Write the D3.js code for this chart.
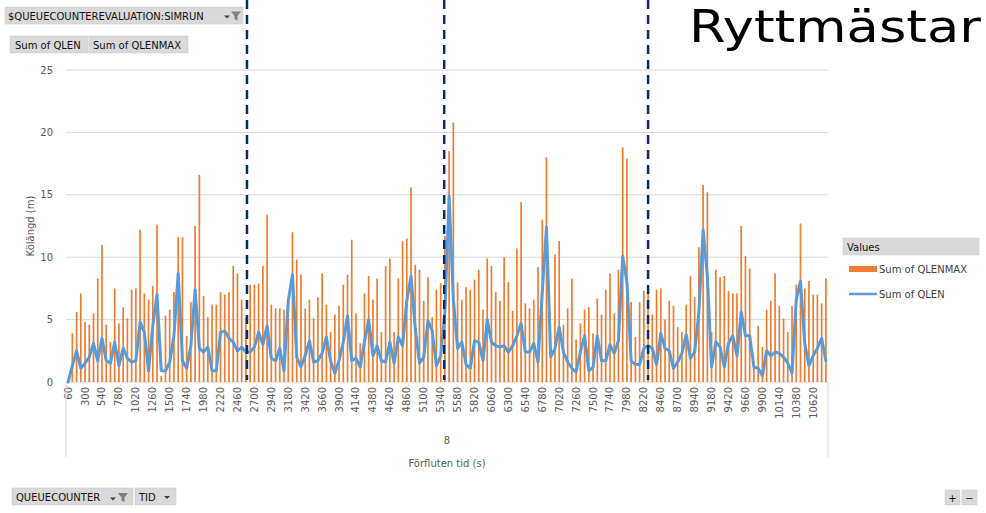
<!DOCTYPE html>
<html>
<head>
<meta charset="utf-8">
<script src="https://cdn.jsdelivr.net/npm/d3@7/dist/d3.min.js"></script>
<style>
body { margin: 0; background: #fff; }
text { font-family: "DejaVu Sans", sans-serif; }
.grid line { stroke: #d9d9d9; stroke-width: 1; }
.tick-label { font-size: 10px; fill: #595959; }
.btn rect { fill: #d9d9d9; stroke: #c8c8c8; stroke-width: 0.5; }
.btn text { font-size: 10px; fill: #111; }
</style>
</head>
<body>
<div id="chart"></div>
<script>

// TID (s), one category every 60 s
var tid = d3.range(60, 10801, 60);

var qlenMax = [
  0, 3.9, 5.6, 7.1, 4.8, 4.6, 5.5, 8.3, 11.0, 4.6, 3.2, 7.5, 4.7, 6.0, 5.1, 7.4, 7.5, 12.2, 7.1, 6.6,
  7.7, 12.6, 0.5, 5.3, 5.8, 7.2, 11.6, 11.6, 3.7, 6.4, 12.5, 16.6, 6.9, 5.2, 6.2, 6.2, 7.2, 7.0, 7.2, 9.3,
  8.7, 6.6, 5.2, 7.8, 7.8, 7.9, 9.3, 13.4, 6.2, 5.9, 5.9, 5.8, 6.6, 12.0, 9.8, 8.6, 5.9, 6.6, 5.1, 6.8,
  8.7, 6.2, 4.0, 5.4, 6.1, 7.8, 8.6, 11.4, 5.5, 3.1, 7.1, 8.5, 6.6, 8.3, 4.0, 9.3, 9.9, 4.0, 8.3, 11.3,
  11.5, 15.6, 9.4, 9.0, 6.5, 8.4, 5.2, 7.4, 7.9, 11.7, 18.5, 20.8, 8.0, 6.6, 7.6, 7.4, 8.2, 9.0, 5.8, 9.9,
  9.3, 7.2, 6.5, 10.0, 8.0, 5.7, 10.7, 14.4, 6.3, 5.9, 6.6, 9.2, 13.0, 18.0, 2.2, 10.2, 11.3, 4.6, 5.9, 8.3,
  3.4, 4.7, 5.8, 6.0, 3.9, 6.7, 5.4, 7.4, 8.7, 5.5, 9.0, 18.8, 17.9, 6.4, 3.6, 6.4, 7.3, 7.4, 5.4, 7.4,
  7.5, 5.0, 6.5, 6.1, 4.4, 4.0, 6.2, 8.5, 6.8, 10.8, 15.8, 15.2, 4.0, 9.0, 8.4, 8.5, 7.3, 7.1, 7.1, 12.5,
  10.1, 9.1, 1.5, 4.5, 2.8, 5.8, 6.5, 8.7, 6.1, 5.1, 4.0, 6.1, 7.8, 12.7, 7.5, 8.1, 7.0, 7.0, 6.3, 8.3
];

var qlen = [
  0, 1.3, 2.5, 1.1, 1.5, 2.0, 3.1, 1.7, 3.5, 1.7, 1.5, 3.2, 1.3, 2.7, 1.9, 1.6, 1.7, 4.8, 4.0, 0.9,
  4.5, 7.0, 0.9, 0.9, 1.6, 3.7, 8.7, 1.7, 1.1, 2.9, 7.4, 2.7, 2.4, 2.8, 0.9, 0.9, 4.0, 4.1, 3.5, 3.2,
  2.5, 2.8, 2.4, 2.4, 2.8, 4.0, 3.0, 4.5, 1.9, 1.7, 2.7, 0.9, 6.5, 8.6, 2.0, 1.2, 2.1, 3.3, 1.6, 1.7,
  2.3, 3.6, 1.7, 0.7, 1.7, 3.2, 5.3, 1.7, 1.9, 1.2, 3.2, 5.0, 2.1, 2.9, 1.7, 1.6, 3.2, 1.5, 3.6, 2.9,
  6.5, 8.5, 4.3, 1.5, 2.0, 4.9, 4.1, 1.3, 2.1, 5.6, 14.9, 6.6, 2.7, 3.2, 1.4, 1.1, 3.3, 3.2, 1.7, 5.0,
  3.2, 2.9, 2.8, 2.9, 2.4, 2.9, 3.7, 4.7, 2.4, 2.4, 3.1, 1.6, 7.2, 12.4, 2.0, 2.7, 4.4, 2.4, 1.6, 1.1,
  0.8, 2.4, 3.7, 0.9, 1.2, 3.7, 1.7, 1.7, 3.0, 2.3, 3.3, 10.1, 8.0, 1.7, 1.4, 1.4, 2.7, 2.9, 2.7, 1.4,
  3.9, 2.7, 2.5, 1.1, 1.6, 2.3, 3.8, 1.9, 2.4, 5.6, 12.2, 8.5, 1.2, 3.2, 2.8, 1.2, 3.1, 3.7, 2.1, 5.6,
  3.7, 3.7, 1.2, 1.1, 0.5, 2.5, 2.1, 2.4, 2.3, 2.0, 1.5, 0.7, 6.6, 8.1, 3.1, 1.3, 2.1, 2.7, 3.5, 1.7
];

var tickLabels = [60, 300, 540, 780, 1020, 1260, 1500, 1740, 1980, 2220, 2460, 2700, 2940, 3180,
  3420, 3660, 3900, 4140, 4380, 4620, 4860, 5100, 5340, 5580, 5820, 6060, 6300, 6540, 6780, 7020,
  7260, 7500, 7740, 7980, 8220, 8460, 8700, 8940, 9180, 9420, 9660, 9900, 10140, 10380, 10620];

var yTicks = [0, 5, 10, 15, 20, 25];

// hand drawn period markers (seconds)
var markers = [2595, 5390, 8280];

var w = 986, h = 513;

var svg = d3.select("#chart").append("svg")
    .attr("width", w)
    .attr("height", h);

svg.append("rect").attr("width", w).attr("height", h).attr("fill", "#fff");

var x = d3.scaleBand()
    .domain(tid)
    .range([66, 828]);

var y = d3.scaleLinear()
    .domain([0, 25])
    .range([382, 70]);

// continuous time scale over the same band range, for the markers
var t = d3.scaleLinear()
    .domain([30, 10830])
    .range([66, 828]);

// gridlines
svg.append("g")
    .attr("class", "grid")
  .selectAll("line")
  .data(yTicks)
  .enter().append("line")
    .attr("x1", 66)
    .attr("x2", 828)
    .attr("y1", function(d) { return y(d); })
    .attr("y2", function(d) { return y(d); });

// y tick labels
svg.append("g").selectAll("text")
  .data(yTicks)
  .enter().append("text")
    .attr("class", "tick-label")
    .attr("x", 53)
    .attr("y", function(d) { return y(d); })
    .attr("dy", "0.35em")
    .attr("text-anchor", "end")
    .text(function(d) { return d; });

// x tick labels (vertical)
svg.append("g").selectAll("text")
  .data(tickLabels)
  .enter().append("text")
    .attr("class", "tick-label")
    .attr("transform", function(d) {
      return "translate(" + (x(d) + x.bandwidth() / 2) + ",387) rotate(-90)";
    })
    .attr("dy", "0.35em")
    .attr("text-anchor", "end")
    .text(function(d) { return d; });

// multi level axis frame
svg.append("line").attr("x1", 66).attr("x2", 66).attr("y1", 382).attr("y2", 457)
    .attr("stroke", "#d9d9d9");
svg.append("line").attr("x1", 828).attr("x2", 828).attr("y1", 382).attr("y2", 457)
    .attr("stroke", "#d9d9d9");

svg.append("text")
    .attr("x", 447).attr("y", 444)
    .attr("text-anchor", "middle")
    .attr("font-size", 10).attr("fill", "#595959")
    .text("8");

svg.append("text")
    .attr("x", 447).attr("y", 467)
    .attr("text-anchor", "middle")
    .attr("font-size", 10).attr("fill", "#595959")
    .text("Förfluten tid (s)");

svg.append("text")
    .attr("transform", "translate(34,226) rotate(-90)")
    .attr("text-anchor", "middle")
    .attr("font-size", 10).attr("fill", "#595959")
    .text("Kölängd (m)");

// bars
var bw = x.bandwidth() * 0.4;
svg.append("g").selectAll("rect")
  .data(tid)
  .enter().append("rect")
    .attr("x", function(d) { return x(d) + (x.bandwidth() - bw) / 2; })
    .attr("width", bw)
    .attr("y", function(d, i) { return y(qlenMax[i]); })
    .attr("height", function(d, i) { return y(0) - y(qlenMax[i]); })
    .attr("fill", "#ed7d31");

// line
var line = d3.line()
    .x(function(d) { return x(d) + x.bandwidth() / 2; })
    .y(function(d, i) { return y(qlen[i]); });

svg.append("path")
    .datum(tid)
    .attr("d", line)
    .attr("fill", "none")
    .attr("stroke", "#5b9bd5")
    .attr("stroke-width", 3)
    .attr("stroke-linejoin", "round")
    .attr("stroke-linecap", "round");

// dashed markers
svg.append("g").selectAll("line")
  .data(markers)
  .enter().append("line")
    .attr("x1", function(d) { return t(d); })
    .attr("x2", function(d) { return t(d); })
    .attr("y1", 0)
    .attr("y2", 380)
    .attr("stroke", "#0b2a66")
    .attr("stroke-width", 2.5)
    .attr("stroke-dasharray", "9,6");

// big title
svg.append("text")
    .attr("x", 689).attr("y", 42)
    .attr("font-size", 45)
    .attr("textLength", 292)
    .attr("lengthAdjust", "spacingAndGlyphs")
    .attr("fill", "#000")
    .text("Ryttmästar");

// pivot buttons
function funnel(g, cx, cy) {
  g.append("path")
    .attr("d", "M" + (cx - 5) + "," + (cy - 4) + "h10l-3.5,4.5v4.5l-3,-1.5v-3z")
    .attr("fill", "#7f7f7f");
}
function arrow(g, cx, cy) {
  g.append("path")
    .attr("d", "M" + (cx - 3) + "," + (cy - 1.5) + "h6l-3,3z")
    .attr("fill", "#404040");
}

var b1 = svg.append("g").attr("class", "btn");
b1.append("rect").attr("x", 5).attr("y", 7).attr("width", 238).attr("height", 17);
b1.append("text").attr("x", 8).attr("y", 19.5).text("$QUEUECOUNTEREVALUATION:SIMRUN");
arrow(b1, 227, 17);
funnel(b1, 236, 15.5);

var b2 = svg.append("g").attr("class", "btn");
b2.append("rect").attr("x", 10).attr("y", 36).attr("width", 78).attr("height", 17);
b2.append("text").attr("x", 15).attr("y", 48.5).text("Sum of QLEN");
b2.append("rect").attr("x", 89).attr("y", 36).attr("width", 99).attr("height", 17);
b2.append("text").attr("x", 93).attr("y", 48.5).text("Sum of QLENMAX");

var b3 = svg.append("g").attr("class", "btn");
b3.append("rect").attr("x", 12).attr("y", 488).attr("width", 121).attr("height", 17);
b3.append("text").attr("x", 16).attr("y", 500.5).text("QUEUECOUNTER");
arrow(b3, 113, 499);
funnel(b3, 123, 497);
b3.append("rect").attr("x", 135).attr("y", 488).attr("width", 41).attr("height", 17);
b3.append("text").attr("x", 139).attr("y", 500.5).text("TID");
arrow(b3, 167, 497.5);

var b4 = svg.append("g").attr("class", "btn");
b4.append("rect").attr("x", 945).attr("y", 490).attr("width", 15).attr("height", 15);
b4.append("text").attr("x", 952.5).attr("y", 501.5).attr("text-anchor", "middle").attr("fill", "#7f7f7f").text("+");
b4.append("rect").attr("x", 962).attr("y", 490).attr("width", 15).attr("height", 15);
b4.append("text").attr("x", 969.5).attr("y", 501.5).attr("text-anchor", "middle").attr("fill", "#7f7f7f").text("−");

// legend
var lg = svg.append("g").attr("class", "btn");
lg.append("rect").attr("x", 843).attr("y", 238).attr("width", 136).attr("height", 17);
lg.append("text").attr("x", 847).attr("y", 250.5).text("Values");

svg.append("rect").attr("x", 849).attr("y", 266).attr("width", 28).attr("height", 6).attr("fill", "#ed7d31");
svg.append("text").attr("x", 879).attr("y", 273).attr("font-size", 10).attr("fill", "#404040").text("Sum of QLENMAX");
svg.append("line").attr("x1", 849).attr("x2", 877).attr("y1", 294).attr("y2", 294)
    .attr("stroke", "#5b9bd5").attr("stroke-width", 2.5);
svg.append("text").attr("x", 879).attr("y", 298).attr("font-size", 10).attr("fill", "#404040").text("Sum of QLEN");

</script>
</body>
</html>
